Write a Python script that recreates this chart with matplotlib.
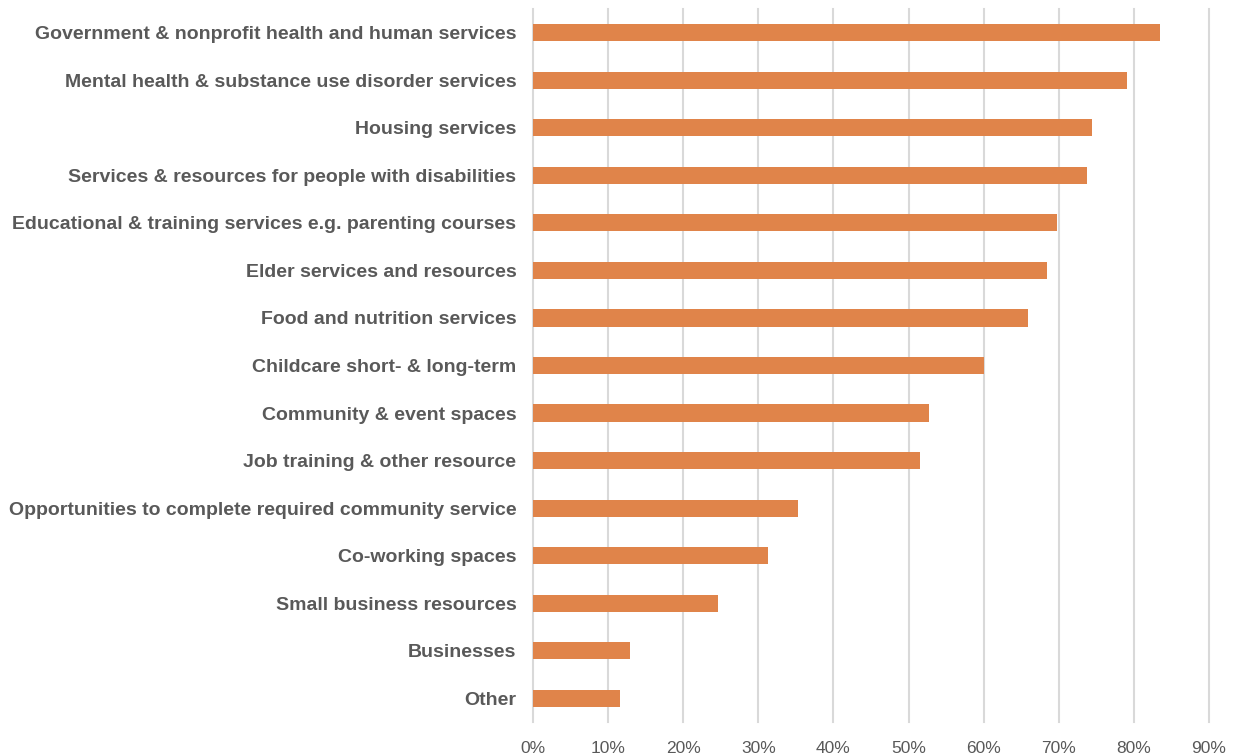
import matplotlib
matplotlib.use("Agg")
import matplotlib.pyplot as plt
from matplotlib.ticker import PercentFormatter

categories = [
    "Government & nonprofit health and human services",
    "Mental health & substance use disorder services",
    "Housing services",
    "Services & resources for people with disabilities",
    "Educational & training services e.g. parenting courses",
    "Elder services and resources",
    "Food and nutrition services",
    "Childcare short- & long-term",
    "Community & event spaces",
    "Job training & other resource",
    "Opportunities to complete required community service",
    "Co-working spaces",
    "Small business resources",
    "Businesses",
    "Other",
]
values = [83.5, 79.1, 74.4, 73.8, 69.8, 68.4, 65.9, 60.1, 52.7, 51.5,
          35.3, 31.3, 24.6, 12.9, 11.6]
ticks = [0, 10, 20, 30, 40, 50, 60, 70, 80, 90]

BAR_COLOR = "#E0844A"
TEXT_COLOR = "#595959"
GRID_COLOR = "#D9D9D9"

fig = plt.figure(figsize=(12.34, 7.55), dpi=100)
ax = fig.add_axes([533 / 1234, 1 - 722 / 755, (1209 - 533) / 1234, 713 / 755])

ypos = list(range(len(categories)))
ax.barh(ypos, values, height=0.36, color=BAR_COLOR, zorder=3)
ax.set_ylim(len(categories) - 0.5, -0.5)
ax.set_xlim(0, 90)

ax.set_yticks(ypos)
ax.set_yticklabels(categories, fontsize=14, fontweight="bold",
                   color=TEXT_COLOR, family="Liberation Sans")
ax.set_xticks(ticks)
ax.xaxis.set_major_formatter(PercentFormatter(decimals=0))
for lab in ax.get_xticklabels():
    lab.set_fontsize(12.5)
    lab.set_color(TEXT_COLOR)
    lab.set_family(["Liberation Sans Narrow", "Liberation Sans"])

ax.tick_params(axis="both", length=0)
ax.tick_params(axis="y", pad=12)
ax.tick_params(axis="x", pad=14)
ax.grid(axis="x", color=GRID_COLOR, linewidth=1.5, zorder=0)
for gl in ax.get_xgridlines():
    gl.set_clip_on(False)
for s in ax.spines.values():
    s.set_visible(False)

fig.savefig("out.png", dpi=100)
